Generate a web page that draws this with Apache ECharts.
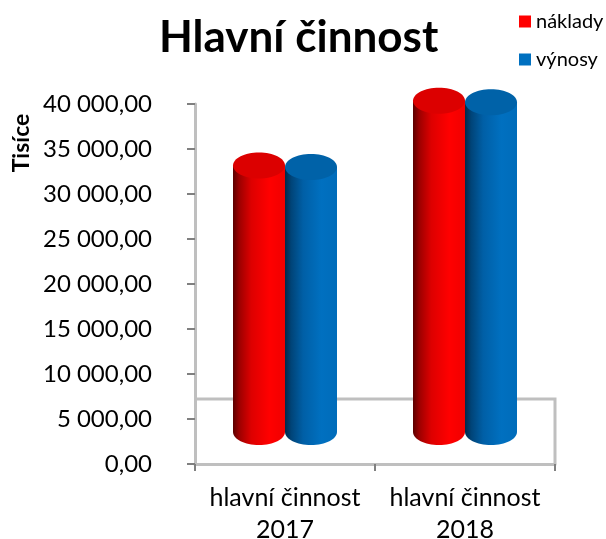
<!DOCTYPE html>
<html><head><meta charset="utf-8">
<style>html,body{margin:0;padding:0;background:#fff}#c{width:606px;height:539px}</style>
<script src="https://cdn.jsdelivr.net/npm/echarts@6/dist/echarts.min.js"></script>
</head><body><div id="c"></div>
<script>
var categories = ['hlavní činnost\n2017', 'hlavní činnost\n2018'];
var naklady = [29600, 36800];
var vynosy = [29450, 36650];
var yTicks = {min: 0, max: 40000, interval: 5000};
var FONT = 'Lato, Carlito, sans-serif';
var DEPTH = 32, RX = 26, RY = 13, FLOOR = 65;

function fmt(v){
  return String(v).replace(/\B(?=(\d{3})+$)/g, ' ') + ',00';
}
function grad(stops){
  return {type:'linear',x:0,y:0,x2:1,y2:0,colorStops:stops};
}
var styles = {
  red: {body: grad([{offset:0,color:'#5c0000'},{offset:0.12,color:'#9c0000'},{offset:0.35,color:'#dd0000'},{offset:0.7,color:'#ff0000'},{offset:1,color:'#f00000'}]), top:'#dc0000'},
  blue:{body: grad([{offset:0,color:'#00294a'},{offset:0.12,color:'#004478'},{offset:0.35,color:'#005fa6'},{offset:0.7,color:'#0070c0'},{offset:1,color:'#006cba'}]), top:'#0062a8'}
};
function cylinder(dir, st){
  return function(params, api){
    var base = api.coord([api.value(0), 0]);
    var top = api.coord([api.value(0), api.value(1)]);
    var cx = base[0] + dir * RX;
    var by = base[1] - DEPTH, ty = top[1] - DEPTH;
    return {type:'group', children:[
      {type:'ellipse', shape:{cx:cx, cy:by, rx:RX, ry:RY}, style:{fill:st.body}},
      {type:'rect', shape:{x:cx-RX, y:ty, width:2*RX, height:by-ty}, style:{fill:st.body}},
      {type:'ellipse', shape:{cx:cx, cy:ty, rx:RX, ry:RY}, style:{fill:st.top}}
    ]};
  };
}
function floor(params, api){
  var a = api.coord([0, 0]);
  var w = api.size([1, 0])[0];
  var x0 = a[0] - w/2, x1 = x0 + 2*w, y = a[1];
  return {type:'polyline', shape:{points:[[x0,y-FLOOR],[x1,y-FLOOR],[x1,y]]}, style:{fill:'none',stroke:'#bfbfbf',lineWidth:3}};
}
var chart = echarts.init(document.getElementById('c'), null, {renderer:'canvas'});
chart.setOption({
  animation:false,
  backgroundColor:'#fff',
  textStyle:{fontFamily:FONT},
  title:{text:'Hlavní činnost', left:154, top:11, textStyle:{fontFamily:FONT,fontSize:44,fontWeight:'bold',color:'#000'}},
  legend:{orient:'vertical', left:519, top:10, padding:0, icon:'rect', itemWidth:12, itemHeight:12, itemGap:15, data:['náklady','výnosy'],
    textStyle:{fontFamily:FONT,fontSize:20,color:'#000',padding:[0,0,0,0],lineHeight:23}},
  grid:{left:195, top:104, width:360, height:360, outerBoundsMode:'none'},
  xAxis:{type:'category', data:categories, axisLine:{lineStyle:{color:'#bfbfbf',width:3}},
    axisTick:{show:true,length:7,lineStyle:{color:'#808080',width:2}},
    axisLabel:{interval:0,fontFamily:FONT,fontSize:25,color:'#000',lineHeight:32,margin:18}},
  yAxis:{type:'value', min:yTicks.min, max:yTicks.max, interval:yTicks.interval,
    axisLine:{show:true,lineStyle:{color:'#bfbfbf',width:3}},
    axisTick:{show:true,length:8,lineStyle:{color:'#808080',width:2}},
    splitLine:{show:false},
    axisLabel:{fontFamily:FONT,fontSize:24,color:'#000',margin:43,formatter:fmt}},
  graphic:[{type:'text', rotation:Math.PI/2, x:22, y:143,
    style:{text:'Tisíce',fontFamily:FONT,fontSize:23,fontWeight:'bold',fill:'#000',align:'center',verticalAlign:'middle'}}],
  series:[
    {type:'custom', name:'floor', renderItem:floor, data:[[0,0]], z:1, silent:true},
    {type:'custom', name:'náklady', renderItem:cylinder(-1,styles.red), data:categories.map(function(c,i){return [i,naklady[i]];}), encode:{x:0,y:1}, itemStyle:{color:'#ff0000'}, z:3},
    {type:'custom', name:'výnosy', renderItem:cylinder(1,styles.blue), data:categories.map(function(c,i){return [i,vynosy[i]];}), encode:{x:0,y:1}, itemStyle:{color:'#0070c0'}, z:2}
  ]
});
</script></body></html>
